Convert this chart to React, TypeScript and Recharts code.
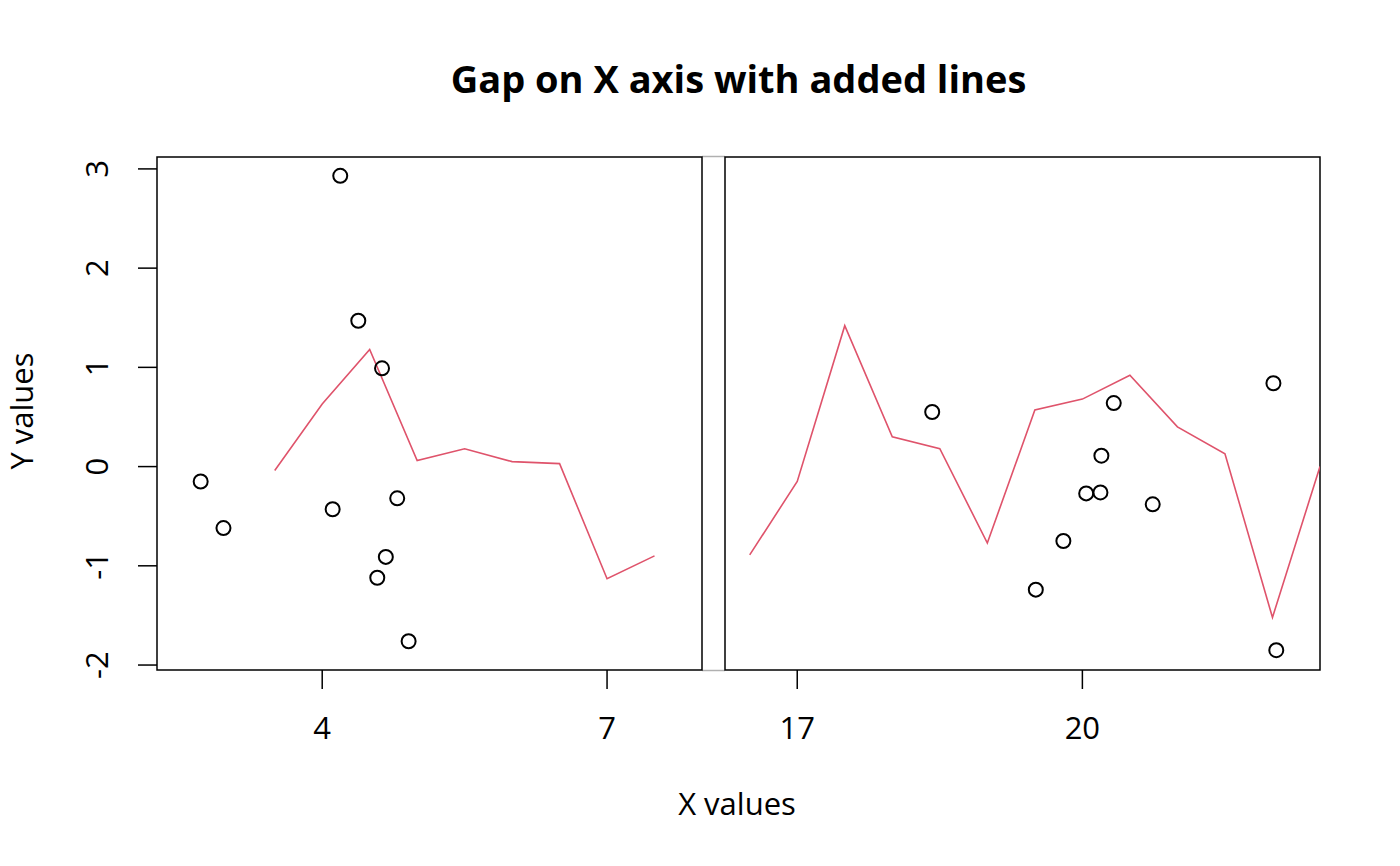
import React from 'react';
import {
  ComposedChart, Scatter, Line,
  XAxis, YAxis, ReferenceArea,
} from 'recharts';

// ─── Data ─────────────────────────────────────────────────────────────────────

const leftPointX = [2.72, 2.96, 4.19, 4.38, 4.63, 4.11, 4.79, 4.67, 4.58, 4.91];
const leftPointY = [-0.15, -0.62, 2.93, 1.47, 0.99, -0.43, -0.32, -0.91, -1.12, -1.76];

const rightPointX = [18.42, 19.51, 19.80, 20.04, 20.19, 20.20, 20.33, 20.74, 22.01, 22.04];
const rightPointY = [0.55, -1.24, -0.75, -0.27, -0.26, 0.11, 0.64, -0.38, 0.84, -1.85];

const leftLineX = [3.5, 4.0, 4.5, 5.0, 5.5, 6.0, 6.5, 7.0, 7.5];
const leftLineY = [-0.04, 0.63, 1.18, 0.06, 0.18, 0.05, 0.03, -1.13, -0.90];

const rightLineX = [16.5, 17.0, 17.5, 18.0, 18.5, 19.0, 19.5, 20.0, 20.5, 21.0, 21.5, 22.0, 22.5];
const rightLineY = [-0.89, -0.15, 1.42, 0.30, 0.18, -0.77, 0.57, 0.68, 0.92, 0.40, 0.13, -1.52, 0.0];

const leftTicks = [4, 7];
const rightTicks = [17, 20];
const yTicks = [-2, -1, 0, 1, 2, 3];

const leftDomain = [2.26, 8.0];
const rightDomain = [16.24, 22.5];
const yDomain = [-2.05, 3.12];

const zip = (xs: number[], ys: number[]) => xs.map((x, i) => ({ x, y: ys[i] }));

const leftPoints = zip(leftPointX, leftPointY);
const rightPoints = zip(rightPointX, rightPointY);
const leftLine = zip(leftLineX, leftLineY);
const rightLine = zip(rightLineX, rightLineY);

// ─── Styling ──────────────────────────────────────────────────────────────────

const LINE_RED = '#DF536B';
const FONT = '"Open Sans", "Noto Sans", sans-serif';
const TICK_SIZE = 31;

function OpenCircle(props: any) {
  const { cx, cy } = props;
  return <circle cx={cx} cy={cy} r={7} fill="none" stroke="#000" strokeWidth={2} />;
}

function RotatedYTick({ x, y, payload }: any) {
  return (
    <text
      transform={`translate(${x}, ${y}) rotate(-90)`}
      textAnchor="middle"
      fontSize={TICK_SIZE}
      fill="#000"
    >
      {String(payload.value)}
    </text>
  );
}

const xTickProps = { fontSize: TICK_SIZE, fill: '#000' };

// ─── Panels ───────────────────────────────────────────────────────────────────

function LeftPanel() {
  return (
    <ComposedChart width={720} height={866} margin={{ top: 157, right: 18, bottom: 0, left: 0 }}>
      <XAxis
        type="number"
        dataKey="x"
        domain={leftDomain}
        ticks={leftTicks}
        allowDataOverflow
        height={196}
        axisLine={false}
        tickLine={{ stroke: '#000', strokeWidth: 1.5 }}
        tickSize={19}
        tickMargin={28}
        tick={xTickProps}
        interval={0}
      />
      <YAxis
        type="number"
        domain={yDomain}
        ticks={yTicks}
        allowDataOverflow
        width={157}
        axisLine={false}
        tickLine={{ stroke: '#000', strokeWidth: 1.5 }}
        tickSize={19}
        tickMargin={30}
        tick={<RotatedYTick />}
        interval={0}
      />
      <ReferenceArea
        x1={leftDomain[0]} x2={leftDomain[1]} y1={yDomain[0]} y2={yDomain[1]}
        fill="none" stroke="#000" strokeWidth={1.5} ifOverflow="visible"
      />
      <Line
        data={leftLine} dataKey="y" type="linear" stroke={LINE_RED}
        strokeWidth={1.6} dot={false} isAnimationActive={false}
      />
      <Scatter data={leftPoints} dataKey="y" shape={<OpenCircle />} isAnimationActive={false} />
    </ComposedChart>
  );
}

function RightPanel() {
  return (
    <ComposedChart width={700} height={866} margin={{ top: 157, right: 80, bottom: 0, left: 25 }}>
      <XAxis
        type="number"
        dataKey="x"
        domain={rightDomain}
        ticks={rightTicks}
        allowDataOverflow
        height={196}
        axisLine={false}
        tickLine={{ stroke: '#000', strokeWidth: 1.5 }}
        tickSize={19}
        tickMargin={28}
        tick={xTickProps}
        interval={0}
      />
      <YAxis type="number" domain={yDomain} allowDataOverflow hide />
      <ReferenceArea
        x1={rightDomain[0]} x2={rightDomain[1]} y1={yDomain[0]} y2={yDomain[1]}
        fill="none" stroke="#000" strokeWidth={1.5} ifOverflow="visible"
      />
      <Line
        data={rightLine} dataKey="y" type="linear" stroke={LINE_RED}
        strokeWidth={1.6} dot={false} isAnimationActive={false}
      />
      <Scatter data={rightPoints} dataKey="y" shape={<OpenCircle />} isAnimationActive={false} />
    </ComposedChart>
  );
}

// ─── App ──────────────────────────────────────────────────────────────────────

export default function App() {
  return (
    <div
      style={{
        position: 'absolute', left: 0, top: 0, width: 1400, height: 866,
        background: '#fff', fontFamily: FONT, color: '#000',
      }}
    >
      <svg width={1400} height={866} style={{ position: 'absolute', left: 0, top: 0 }}>
        <text x={738.5} y={93} textAnchor="middle" fontSize={38} fontWeight="bold" fill="#000">
          Gap on X axis with added lines
        </text>
        <text x={737} y={815} textAnchor="middle" fontSize={TICK_SIZE} fill="#000">
          X values
        </text>
        <text transform="translate(33, 411) rotate(-90)" textAnchor="middle" fontSize={TICK_SIZE} fill="#000">
          Y values
        </text>
        {/* gap between the two panels */}
        <line x1={702} x2={725} y1={156.5} y2={156.5} stroke="#b0b0b0" strokeWidth={1.5} />
        <line x1={702} x2={725} y1={670.5} y2={670.5} stroke="#b0b0b0" strokeWidth={1.5} />
      </svg>
      <div style={{ position: 'absolute', left: 0, top: 0 }}>
        <LeftPanel />
      </div>
      <div style={{ position: 'absolute', left: 700, top: 0 }}>
        <RightPanel />
      </div>
    </div>
  );
}
